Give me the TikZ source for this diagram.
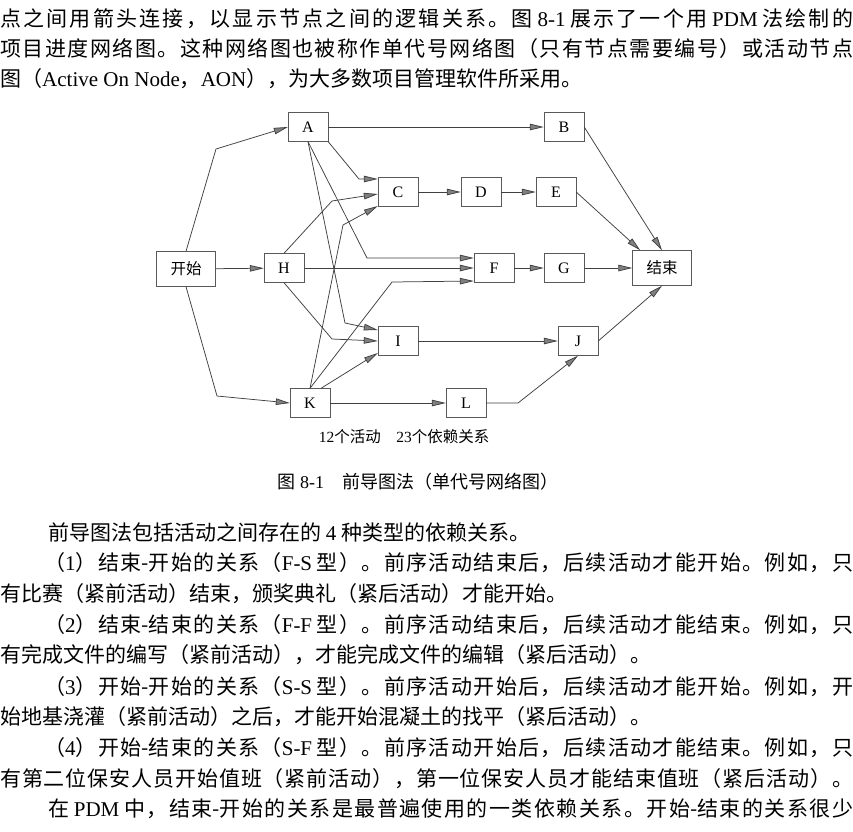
\documentclass[tikz,border=0pt]{standalone}
\usepackage{fontspec}
\setmainfont{Noto Sans CJK SC}
\newfontfamily\latfont{Liberation Serif}
\newcommand\lat[1]{{\latfont #1}}
\newcommand\fillline[2]{\hbox to #1{#2}}
% stretchable glue between CJK characters, so that full lines can be justified
\XeTeXinterchartokenstate=1
\newXeTeXintercharclass\cjkcls
\newcount\cjkcnt
\newcommand\cjkrange[2]{\cjkcnt=#1\relax
  \loop\XeTeXcharclass\cjkcnt=\cjkcls\advance\cjkcnt by 1\relax\ifnum\cjkcnt<#2\repeat}
\cjkrange{"3000}{"3040}
\cjkrange{"4E00}{"A000}
\cjkrange{"FF00}{"FFF0}
\XeTeXinterchartoks\cjkcls\cjkcls={\hskip0pt plus 1fil\relax}
\usetikzlibrary{arrows.meta}

\begin{document}
\begin{tikzpicture}[x=1pt,y=-1pt,
      act/.style={draw=black!65,minimum width=40pt,minimum height=29pt,inner sep=0pt,
                  font=\latfont\fontsize{16}{16}\selectfont},
      ends/.style={act,minimum width=59pt,minimum height=35pt,font=\fontsize{15.5}{16}\selectfont},
      dep/.style={draw=black!75,line width=0.75pt,-{Triangle[length=14pt,width=6.5pt,fill=black!50]}},
      txt/.style={anchor=base west,inner sep=0pt,font=\fontsize{21}{21}\selectfont}]
    \fill[white] (0,0) rectangle (853,831);
    \useasboundingbox (0,0) rectangle (853,831);
    \node[txt] (t1) at (0,26) {\fillline{853pt}{点之间用箭头连接，以显示节点之间的逻辑关系。图 \lat{8-1} 展示了一个用 \lat{PDM} 法绘制的}};
    \node[txt] (t2) at (0,56) {\fillline{853pt}{项目进度网络图。这种网络图也被称作单代号网络图（只有节点需要编号）或活动节点}};
    \node[txt] (t3) at (0,86) {图（\lat{Active On Node}，\lat{AON}），为大多数项目管理软件所采用。};
    \node[ends] (st) at (186,269) {开始};
    \node[act] (a) at (308,127) {A};
    \node[act] (b) at (564,127) {B};
    \node[act] (c) at (398,192) {C};
    \node[act] (d) at (481,192) {D};
    \node[act] (e) at (556,192) {E};
    \node[act] (h) at (284,268) {H};
    \node[act] (f) at (494,268) {F};
    \node[act] (g) at (564,268) {G};
    \node[ends] (en) at (662,268) {结束};
    \node[act] (i) at (398,341) {I};
    \node[act] (j) at (578,341) {J};
    \node[act] (k) at (310,403) {K};
    \node[act] (l) at (466,403) {L};
    \foreach \u/\v in {st/h,a/b,h/f,c/d,d/e,f/g,g/en,i/j,k/l} \draw[dep] (\u) -- (\v);
    \draw[dep] (st.north) -- (216,149) -- (a.west);
    \draw[dep] (st.south) -- (217,396) -- (k.west);
    \draw[dep] (a.south east) -- (359,179) -- ([yshift=13pt]c.west);
    \draw[dep] (h.north) -- (332,201) -- ([yshift=-2pt]c.west);
    \draw[dep] (k.north) -- (343,225) -- ([yshift=-14pt]c.west);
    \draw[dep] (a.south) -- (367,258) -- ([yshift=10pt]f.west);
    \draw[dep] (k.north) -- (392,282) -- ([yshift=-13pt]f.west);
    \draw[dep] (a.south) -- (345,323) -- ([yshift=11pt]i.west);
    \draw[dep] (h.south) -- (332,339) -- (i.west);
    \draw[dep] ([xshift=11pt]k.north) -- ([yshift=-12pt]i.west);
    \draw[dep] (l.east) -- (518,403) -- (j.south);
    \draw[dep] (j.east) -- (en.south);
    \draw[dep] (b.east) -- (en.north);
    \draw[dep] (e.east) -- ([xshift=8pt]en.north west);
    \node[font=\fontsize{15.5}{16}\selectfont] (cap1) at (404,437) {\lat{12}个活动\quad\lat{23}个依赖关系};
    \node[font=\fontsize{18}{18}\selectfont] (cap2) at (418,482) {图 \lat{8-1}\quad 前导图法（单代号网络图）};
    \node[txt] (t4) at (48,540) {前导图法包括活动之间存在的 \lat{4} 种类型的依赖关系。};
    \node[txt] (t5) at (44,570) {\fillline{809pt}{（\lat{1}）结束-开始的关系（\lat{F-S} 型）。前序活动结束后，后续活动才能开始。例如，只}};
    \node[txt] (t6) at (0,601) {有比赛（紧前活动）结束，颁奖典礼（紧后活动）才能开始。};
    \node[txt] (t7) at (44,632) {\fillline{809pt}{（\lat{2}）结束-结束的关系（\lat{F-F} 型）。前序活动结束后，后续活动才能结束。例如，只}};
    \node[txt] (t8) at (0,662) {有完成文件的编写（紧前活动），才能完成文件的编辑（紧后活动）。};
    \node[txt] (t9) at (44,694) {\fillline{809pt}{（\lat{3}）开始-开始的关系（\lat{S-S} 型）。前序活动开始后，后续活动才能开始。例如，开}};
    \node[txt] (t10) at (0,724) {始地基浇灌（紧前活动）之后，才能开始混凝土的找平（紧后活动）。};
    \node[txt] (t11) at (44,755) {\fillline{809pt}{（\lat{4}）开始-结束的关系（\lat{S-F} 型）。前序活动开始后，后续活动才能结束。例如，只}};
    \node[txt] (t12) at (0,786) {\fillline{853pt}{有第二位保安人员开始值班（紧前活动），第一位保安人员才能结束值班（紧后活动）。}};
    \node[txt] (t13) at (48,816) {\fillline{805pt}{在 \lat{PDM} 中，结束-开始的关系是最普遍使用的一类依赖关系。开始-结束的关系很少}};
  \end{tikzpicture}
\end{document}
